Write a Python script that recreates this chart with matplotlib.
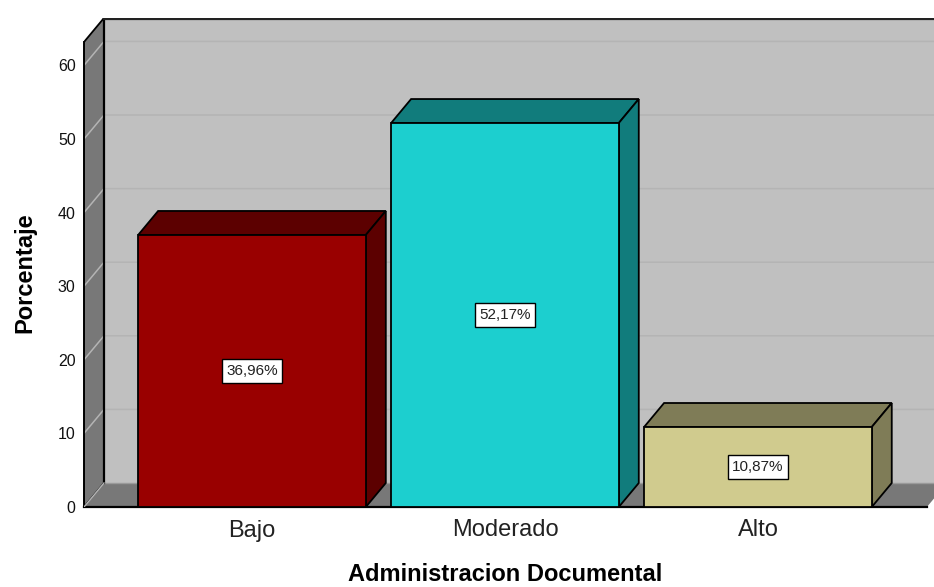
import matplotlib
matplotlib.use('Agg')
import matplotlib.pyplot as plt
from matplotlib.patches import Polygon

categories = ['Bajo', 'Moderado', 'Alto']
percentages = [36.96, 52.17, 10.87]
labels = ['36,96%', '52,17%', '10,87%']
front_colors = ['#990000', '#1ccfcf', '#d0cb8e']
shade_colors = ['#5c0000', '#117c7c', '#7f7c57']
y_ticks = [0, 10, 20, 30, 40, 50, 60]

WALL = '#c0c0c0'
SIDE = '#787878'
GRID = '#b4b4b4'
BAR_WIDTH = 0.9
DX = 0.079   # 3d depth, x units
DY = 3.26    # 3d depth, y units
Y_MAX = 66.44
X_MIN, X_MAX = -0.664, 2.696

plt.rcParams['font.family'] = ['Liberation Sans', 'DejaVu Sans']


def poly(ax, points, color, edge='black', lw=1.3, z=2):
    ax.add_patch(Polygon(points, closed=True, facecolor=color, edgecolor=edge,
                         linewidth=lw, joinstyle='miter', zorder=z))


def draw_walls(ax):
    right = X_MAX + 0.1
    floor_end = 2.668
    # back wall, side wall and floor
    poly(ax, [(X_MIN + DX, DY), (right, DY), (right, Y_MAX), (X_MIN + DX, Y_MAX)],
         WALL, edge='none', z=1)
    poly(ax, [(X_MIN, 0), (X_MIN, Y_MAX - DY), (X_MIN + DX, Y_MAX), (X_MIN + DX, DY)],
         SIDE, z=1)
    poly(ax, [(X_MIN, 0), (floor_end, 0), (floor_end + DX, DY), (X_MIN + DX, DY)],
         SIDE, edge='none', z=1)
    ax.plot([X_MIN, floor_end], [0, 0], color='black', lw=1.6, zorder=2, clip_on=False)
    ax.plot([X_MIN + DX, X_MIN + DX], [DY, Y_MAX], color='black', lw=1.6, zorder=2)
    ax.plot([X_MIN + DX, right], [Y_MAX - 0.1, Y_MAX - 0.1], color='#222222', lw=1.6, zorder=2)
    ax.plot([X_MIN, X_MIN], [0, Y_MAX - DY], color='black', lw=1.4, zorder=2, clip_on=False)
    ax.plot([X_MIN, X_MIN + DX], [0, DY], color=GRID, lw=1, zorder=2)

    for t in y_ticks[1:]:
        ax.plot([X_MIN, X_MIN + DX, right], [t, t + DY, t + DY], color=GRID, lw=1.1, zorder=1.5)
    ax.plot([X_MIN + DX, right], [DY, DY], color='#9a9a9a', lw=1, zorder=1.5)


def draw_bar(ax, x, value, label, front, shade):
    l, r = x - BAR_WIDTH / 2, x + BAR_WIDTH / 2
    poly(ax, [(l, value), (r, value), (r + DX, value + DY), (l + DX, value + DY)], shade, z=3)
    poly(ax, [(r, 0), (r + DX, DY), (r + DX, value + DY), (r, value)], shade, z=3)
    poly(ax, [(l, 0), (r, 0), (r, value), (l, value)], front, z=4)
    ax.text(x, value / 2, label, ha='center', va='center', fontsize=11, color='#222222', zorder=5,
            bbox=dict(boxstyle='square,pad=0.3', facecolor='white', edgecolor='black', linewidth=1))


fig = plt.figure(figsize=(9.34, 5.87), dpi=100, facecolor='white')
ax = fig.add_axes([84 / 934, (587 - 507) / 587, 850 / 934, 489 / 587])
ax.set_xlim(X_MIN, X_MAX)
ax.set_ylim(0, Y_MAX)
for s in ax.spines.values():
    s.set_visible(False)

draw_walls(ax)
for i, v in enumerate(percentages):
    draw_bar(ax, i, v, labels[i], front_colors[i], shade_colors[i])

ax.set_xticks(range(len(categories)), categories, fontsize=17, color='#222222')
ax.set_yticks(y_ticks, [str(t) for t in y_ticks], fontsize=11.5, color='#111111')
ax.tick_params(axis='x', length=0, pad=9)
ax.tick_params(axis='y', length=0, pad=6)

fig.text(505 / 934, 1 - 581 / 587, 'Administracion Documental', ha='center', va='baseline',
         fontsize=17, fontweight='bold')
fig.text(25 / 934, 1 - 273 / 587, 'Porcentaje', ha='center', va='center', rotation=90,
         fontsize=17, fontweight='bold')

fig.savefig('out.png', dpi=100)
